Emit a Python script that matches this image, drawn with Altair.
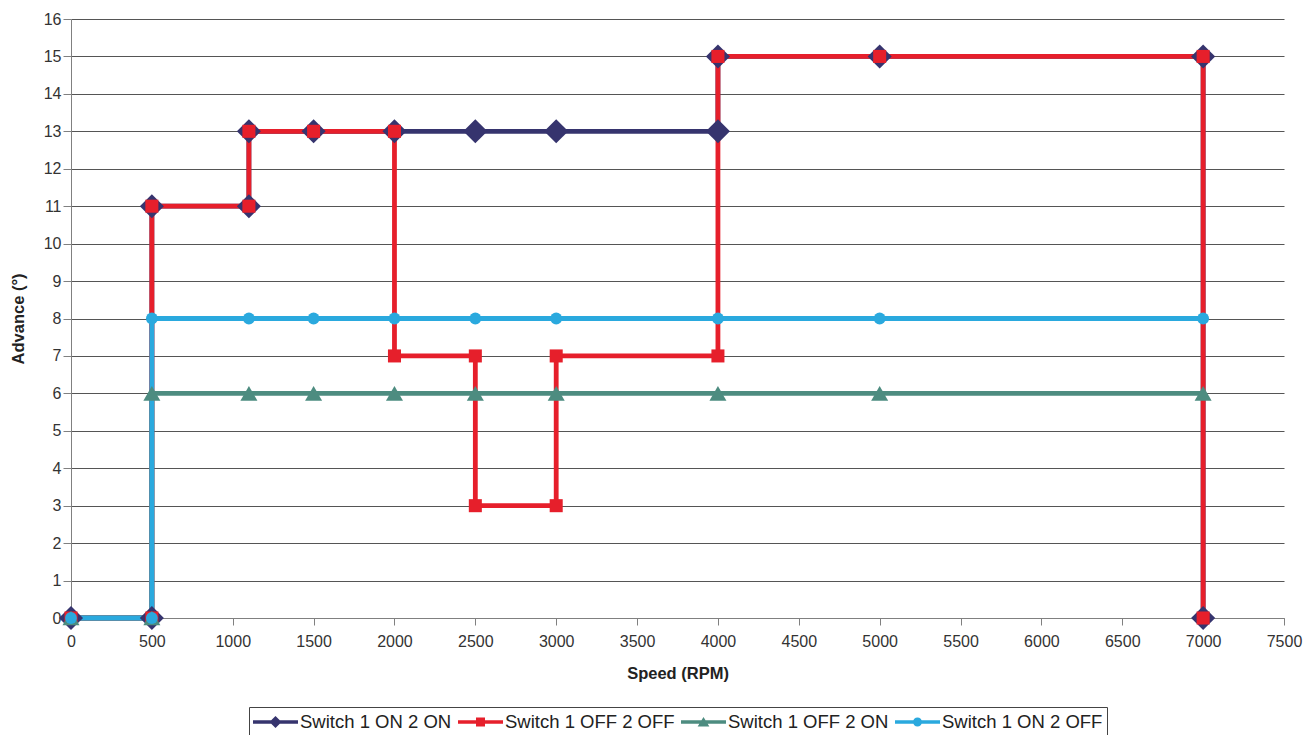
import altair as alt
import pandas as pd

series_names = ["Switch 1 ON 2 ON", "Switch 1 OFF 2 OFF", "Switch 1 OFF 2 ON", "Switch 1 ON 2 OFF"]
series_colors = ["#36346e", "#e61f2b", "#4d8c80", "#2aa9de"]
series_shapes = ["diamond", "square", "triangle-up", "circle"]
series_marker_sizes = [580, 170, 290, 140]

speed_on_on = [0, 500, 500, 1100, 1100, 1500, 2000, 2500, 3000, 4000, 4000, 5000, 7000, 7000]
adv_on_on = [0, 0, 11, 11, 13, 13, 13, 13, 13, 13, 15, 15, 15, 0]

speed_off_off = [0, 500, 500, 1100, 1100, 1500, 2000, 2000, 2500, 2500, 3000, 3000, 4000, 4000, 5000, 7000, 7000]
adv_off_off = [0, 0, 11, 11, 13, 13, 13, 7, 7, 3, 3, 7, 7, 15, 15, 15, 0]

speed_off_on = [0, 500, 500, 1100, 1500, 2000, 2500, 3000, 4000, 5000, 7000]
adv_off_on = [0, 0, 6, 6, 6, 6, 6, 6, 6, 6, 6]

speed_on_off = [0, 500, 500, 1100, 1500, 2000, 2500, 3000, 4000, 5000, 7000]
adv_on_off = [0, 0, 8, 8, 8, 8, 8, 8, 8, 8, 8]

x_ticks = list(range(0, 7501, 500))
y_ticks = list(range(0, 17))

# legend symbols: line with the marker at its centre (unit coordinates)
legend_paths = [
    "M-1,-0.075H1V0.075H-1Z M0,-0.27L0.27,0L0,0.27L-0.27,0Z",
    "M-1,-0.075H1V0.075H-1Z M-0.2,-0.2H0.2V0.2H-0.2Z",
    "M-1,-0.075H1V0.075H-1Z M0,-0.22L0.26,0.2L-0.26,0.2Z",
    "M-1,-0.075H1V0.075H-1Z M0.2,0A0.2,0.2 0 1,1 -0.2,0A0.2,0.2 0 1,1 0.2,0Z",
]

rows = []
for name, xs, ys in zip(
    series_names,
    [speed_on_on, speed_off_off, speed_off_on, speed_on_off],
    [adv_on_on, adv_off_off, adv_off_on, adv_on_off],
):
    for i, (xv, yv) in enumerate(zip(xs, ys)):
        rows.append({"series": name, "speed": xv, "advance": yv, "idx": i})
df = pd.DataFrame(rows)

FONT = "Liberation Sans, Arial, sans-serif"

x_enc = alt.X(
    "speed:Q",
    scale=alt.Scale(domain=[0, 7500], nice=False, zero=False),
    axis=alt.Axis(values=x_ticks, title="Speed (RPM)", grid=False, tickSize=7,
                  labelPadding=8, titlePadding=16, format="d", labelFlush=False),
)
y_enc = alt.Y(
    "advance:Q",
    scale=alt.Scale(domain=[0, 16], nice=False),
    axis=alt.Axis(values=y_ticks, title="Advance (°)", grid=True, tickSize=8,
                  labelPadding=2, titlePadding=17, format="d"),
)

base = alt.Chart(df)

line_layers = [
    base.transform_filter(alt.datum.series == n)
    .mark_line(strokeWidth=4.8, color=c)
    .encode(x=x_enc, y=y_enc, order="idx:Q")
    for n, c in zip(series_names, series_colors)
]

point_layers = [
    base.transform_filter(alt.datum.series == n)
    .mark_point(filled=True, shape=s, size=sz, color=c, opacity=1)
    .encode(x=x_enc, y=y_enc)
    for n, c, s, sz in zip(series_names, series_colors, series_shapes, series_marker_sizes)
]

legend_def = alt.Legend(title=None, orient="none", legendX=178, legendY=688, direction="horizontal",
                        labelLimit=400)

legend_layer = (
    base.transform_filter("datum.speed < 0")
    .mark_point(filled=True, opacity=1)
    .encode(
        x=x_enc,
        y=y_enc,
        color=alt.Color("series:N", scale=alt.Scale(domain=series_names, range=series_colors), legend=legend_def),
        shape=alt.Shape("series:N", scale=alt.Scale(domain=series_names, range=legend_paths), legend=legend_def),
    )
)

chart = (
    alt.layer(*line_layers, *point_layers, legend_layer)
    .properties(
        width=1213,
        height=599,
        autosize=alt.AutoSizeParams(type="none"),
        padding={"left": 63, "top": 11, "right": 24, "bottom": 117},
        background="white",
    )
    .configure_view(stroke=None)
    .configure_axis(
        labelFont=FONT, labelFontSize=16, labelColor="#333333",
        titleFont=FONT, titleFontSize=16.5, titleFontWeight="bold", titleColor="#222222",
        domainColor="#808080", tickColor="#808080", gridColor="#555555", gridWidth=1, gridOpacity=1,
    )
    .configure_legend(
        symbolSize=2025, clipHeight=22, labelFont=FONT, labelFontSize=18.5, labelColor="#222222",
        columnPadding=6, labelOffset=2, padding=4, strokeColor="#444444", fillColor="white",
        symbolStrokeWidth=0, symbolOpacity=1, cornerRadius=0, labelLimit=400,
    )
)

chart.save("out.html", embed_options={"renderer": "svg", "actions": False})
